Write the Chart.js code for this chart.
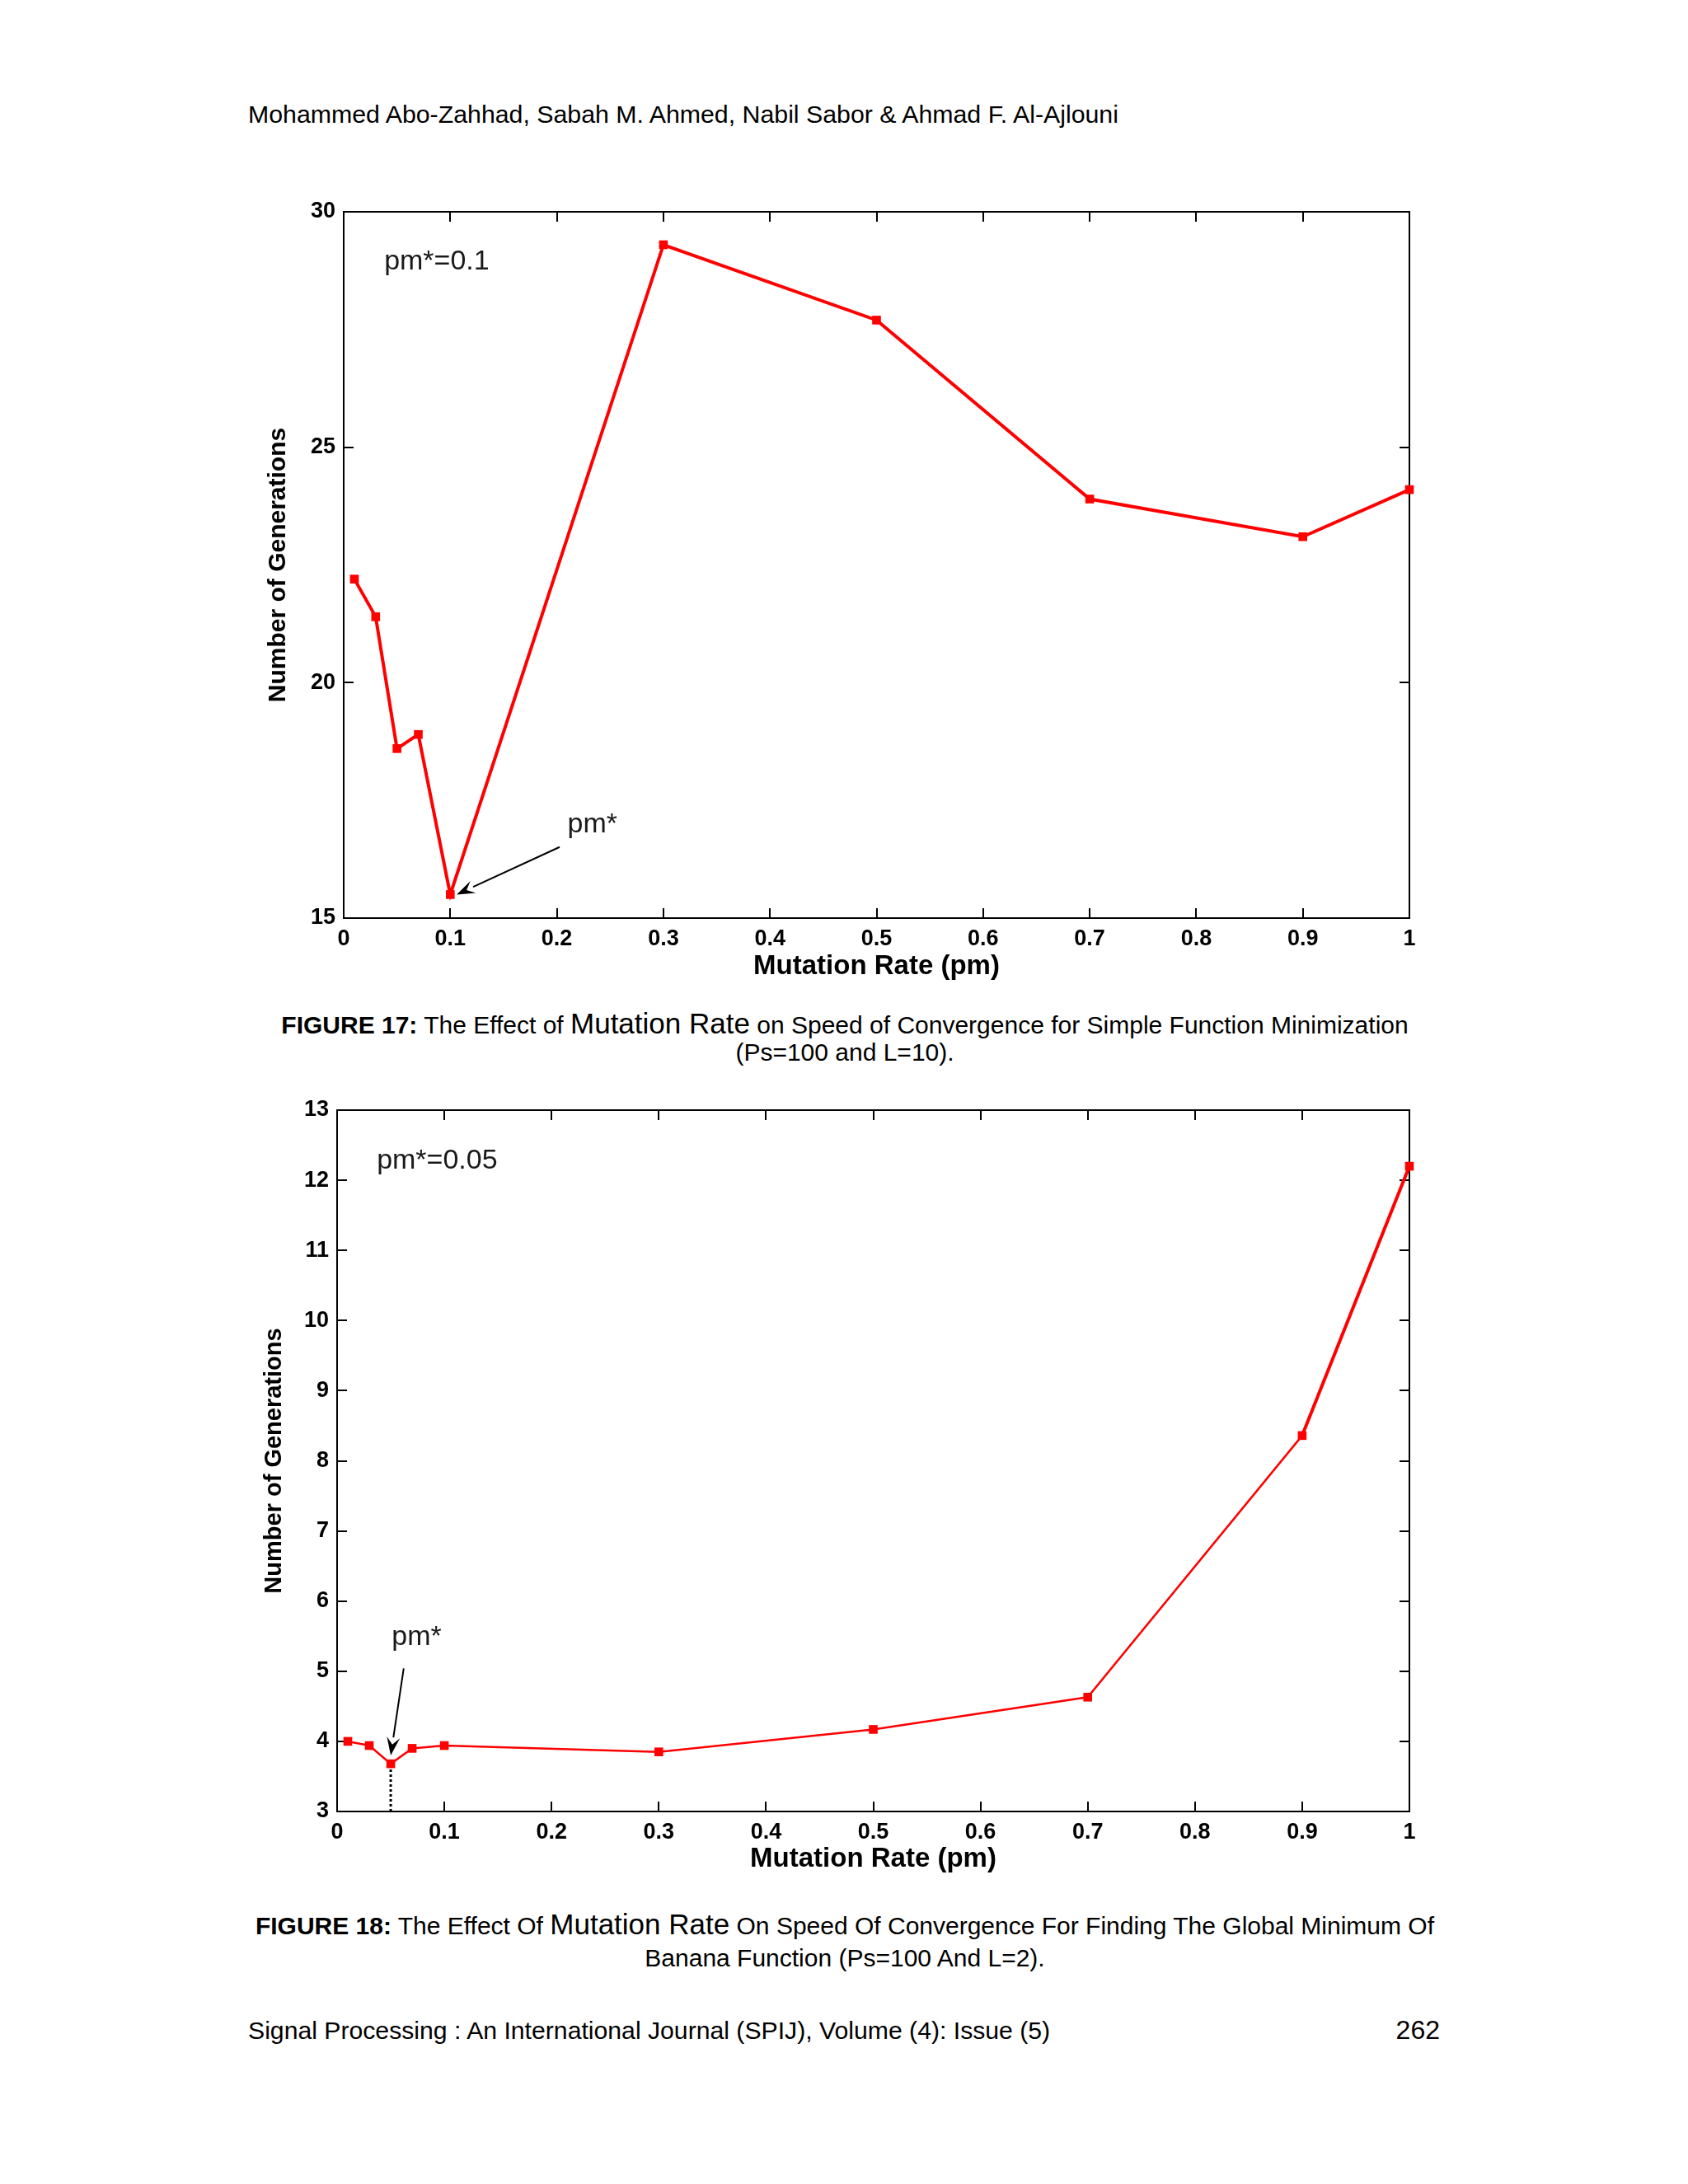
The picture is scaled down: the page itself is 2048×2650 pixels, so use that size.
<!DOCTYPE html>
<html lang="en">
<head>
<meta charset="UTF-8">
<title>Effect of Mutation Rate</title>
<script src="https://cdn.jsdelivr.net/npm/chart.js"></script>
<style>
  html, body { margin: 0; padding: 0; background: #fff; }
  body { width: 2048px; height: 2650px; position: relative; overflow: hidden;
         font-family: "Liberation Sans", Arial, sans-serif; color: #000; }
  .txt { position: absolute; white-space: nowrap; font-size: 30px; line-height: 36px; }
  .center { left: 0; width: 2050px; text-align: center; }
  .big { font-size: 35px; }
  canvas { position: absolute; }
</style>
</head>
<body>

<div class="txt" style="left:301px; top:121px; font-size:30.3px;">Mohammed Abo-Zahhad, Sabah M. Ahmed, Nabil Sabor &amp; Ahmad F. Al-Ajlouni</div>

<canvas id="fig17" width="1450" height="980" style="left:300px; top:230px;"></canvas>

<div class="txt center" style="top:1224px;"><b>FIGURE 17:</b> The Effect of <span class="big">Mutation Rate</span> on Speed of Convergence for Simple Function Minimization</div>
<div class="txt center" style="top:1259px;">(Ps=100 and L=10).</div>

<canvas id="fig18" width="1460" height="980" style="left:290px; top:1320px;"></canvas>

<div class="txt center" style="top:2317px;"><b>FIGURE 18:</b> The Effect Of <span class="big">Mutation Rate</span> On Speed Of Convergence For Finding The Global Minimum Of</div>
<div class="txt center" style="top:2358px;">Banana Function (Ps=100 And L=2).</div>

<div class="txt" style="left:301px; top:2446px; font-size:30.2px;">Signal Processing : An International Journal (SPIJ), Volume (4): Issue (5)</div>
<div class="txt" style="right:301px; top:2445px; font-size:32px;">262</div>

<script>
// data
const pmRates = [0.01, 0.03, 0.05, 0.07, 0.1, 0.3, 0.5, 0.7, 0.9, 1.0];
const gensSimple = [22.2, 21.4, 18.6, 18.9, 15.5, 29.3, 27.7, 23.9, 23.1, 24.1];
const gensBanana = [4.0, 3.94, 3.68, 3.9, 3.94, 3.85, 4.17, 4.63, 8.36, 12.2];
const xTicks = [0, 0.1, 0.2, 0.3, 0.4, 0.5, 0.6, 0.7, 0.8, 0.9, 1];
const yTicksSimple = [15, 20, 25, 30];
const yTicksBanana = [3, 4, 5, 6, 7, 8, 9, 10, 11, 12, 13];
const bestSimple = 4;   // index of pm* in each series
const bestBanana = 2;

const tickFont = { family: '"Liberation Sans", Arial, sans-serif', weight: 'bold', size: 27 };

// matlab-like box with inward ticks, axis titles and the pm* notes
const matlabBox = {
  id: 'matlabBox',
  beforeDatasetsDraw(chart, args, o) {
    const { ctx, chartArea: a, scales: { x, y } } = chart;
    ctx.save();
    ctx.strokeStyle = '#000';
    ctx.lineWidth = 2;
    ctx.strokeRect(a.left, a.top, a.right - a.left, a.bottom - a.top);
    ctx.beginPath();
    x.ticks.forEach(t => {
      const px = Math.round(x.getPixelForValue(t.value));
      ctx.moveTo(px, a.bottom); ctx.lineTo(px, a.bottom - 12);
      ctx.moveTo(px, a.top); ctx.lineTo(px, a.top + 12);
    });
    y.ticks.forEach(t => {
      const py = Math.round(y.getPixelForValue(t.value));
      ctx.moveTo(a.left, py); ctx.lineTo(a.left + 12, py);
      ctx.moveTo(a.right, py); ctx.lineTo(a.right - 12, py);
    });
    ctx.stroke();

    // axis titles
    ctx.fillStyle = '#000';
    ctx.textAlign = 'center';
    ctx.textBaseline = 'middle';
    ctx.font = 'bold 33px "Liberation Sans", Arial, sans-serif';
    ctx.fillText(o.xTitle, (a.left + a.right) / 2, a.bottom + o.xTitleGap);
    ctx.save();
    ctx.translate(a.left - o.yTitleGap, (a.top + a.bottom) / 2);
    ctx.rotate(-Math.PI / 2);
    ctx.font = o.yTitleFont;
    ctx.fillText(o.yTitle, 0, 0);
    ctx.restore();
    ctx.restore();
  },
  afterDraw(chart, args, o) {
    const { ctx, scales: { x, y } } = chart;
    ctx.save();
    ctx.fillStyle = '#1a1a1a';
    ctx.font = '34px "Liberation Sans", Arial, sans-serif';
    ctx.textAlign = 'left';
    ctx.textBaseline = 'middle';
    o.notes.forEach(n => ctx.fillText(n.text, x.getPixelForValue(n.x), y.getPixelForValue(n.y)));

    o.arrows.forEach(ar => {
      const x0 = x.getPixelForValue(ar.from[0]), y0 = y.getPixelForValue(ar.from[1]);
      const x1 = x.getPixelForValue(ar.to[0]), y1 = y.getPixelForValue(ar.to[1]);
      const ang = Math.atan2(y1 - y0, x1 - x0);
      const len = 22, half = 8;
      const bx = x1 - len * Math.cos(ang), by = y1 - len * Math.sin(ang);
      ctx.strokeStyle = '#000';
      ctx.lineWidth = 2;
      ctx.beginPath();
      ctx.moveTo(x0, y0);
      ctx.lineTo(bx, by);
      ctx.stroke();
      ctx.fillStyle = '#000';
      ctx.beginPath();
      ctx.moveTo(x1, y1);
      ctx.lineTo(bx + half * Math.sin(ang), by - half * Math.cos(ang));
      ctx.lineTo(x1 - 0.6 * len * Math.cos(ang), y1 - 0.6 * len * Math.sin(ang));
      ctx.lineTo(bx - half * Math.sin(ang), by + half * Math.cos(ang));
      ctx.closePath();
      ctx.fill();
    });
    ctx.restore();
  }
};

function makeChart(id, series, yMin, yMax, yTicks, opts, extraSets) {
  const points = pmRates.map((r, i) => ({ x: r, y: series[i] }));
  return new Chart(document.getElementById(id), {
    type: 'line',
    data: {
      datasets: [{
        data: points,
        borderColor: '#ff0000',
        backgroundColor: '#ff0000',
        borderWidth: opts.lineWidth,
        segment: opts.segment || {},
        pointStyle: 'rect',
        pointRadius: 7.5,
        pointBorderWidth: 0,
        tension: 0,
        clip: false
      }].concat(extraSets || [])
    },
    options: {
      responsive: false,
      animation: false,
      layout: { padding: { top: 27, right: 40, left: 0, bottom: 0 } },
      plugins: {
        legend: { display: false },
        tooltip: { enabled: false },
        matlabBox: opts.box
      },
      scales: {
        x: {
          type: 'linear', min: 0, max: 1,
          afterBuildTicks: s => { s.ticks = xTicks.map(v => ({ value: v })); },
          afterFit: s => { s.height = opts.xHeight; },
          grid: { display: false, drawTicks: false },
          border: { display: false },
          ticks: { autoSkip: false, maxRotation: 0, padding: 9, color: '#000', font: tickFont,
                   callback: v => String(+v.toFixed(2)) }
        },
        y: {
          type: 'linear', min: yMin, max: yMax,
          afterBuildTicks: s => { s.ticks = yTicks.map(v => ({ value: v })); },
          afterFit: s => { s.width = opts.yWidth; },
          grid: { display: false, drawTicks: false },
          border: { display: false },
          ticks: { autoSkip: false, padding: 10, color: '#000', font: tickFont }
        }
      }
    },
    plugins: [matlabBox]
  });
}

makeChart('fig17', gensSimple, 15, 30, yTicksSimple, {
  lineWidth: 4,
  xHeight: 96,
  yWidth: 117,
  box: {
    xTitle: 'Mutation Rate (pm)', xTitleGap: 59,
    yTitle: 'Number of Generations', yTitleGap: 79,
    yTitleFont: 'bold 30px "Liberation Sans", Arial, sans-serif',
    notes: [
      { text: 'pm*=0.1', x: 0.038, y: 28.94 },
      { text: 'pm*', x: 0.21, y: 16.98 }
    ],
    arrows: [{ from: [0.2026, 16.51], to: [pmRates[bestSimple] + 0.006, gensSimple[bestSimple]] }]
  }
});

makeChart('fig18', gensBanana, 3, 13, yTicksBanana, {
  lineWidth: 2.5,
  segment: { borderWidth: c => (c.p0.parsed.x >= 0.9 ? 4 : 2.5) },
  xHeight: 102,
  yWidth: 119,
  box: {
    xTitle: 'Mutation Rate (pm)', xTitleGap: 58,
    yTitle: 'Number of Generations', yTitleGap: 76,
    yTitleFont: 'bold 29px "Liberation Sans Narrow", "Liberation Sans", Arial, sans-serif',
    notes: [
      { text: 'pm*=0.05', x: 0.037, y: 12.27 },
      { text: 'pm*', x: 0.051, y: 5.48 }
    ],
    arrows: [{ from: [0.0621, 5.04], to: [pmRates[bestBanana], gensBanana[bestBanana] + 0.12] }]
  }
}, [{
  // dotted drop line at pm*
  data: [{ x: pmRates[bestBanana], y: 3 }, { x: pmRates[bestBanana], y: gensBanana[bestBanana] }],
  borderColor: '#000',
  borderWidth: 3,
  borderDash: [3, 3],
  pointRadius: 0,
  tension: 0,
  clip: false
}]);
</script>
</body>
</html>
